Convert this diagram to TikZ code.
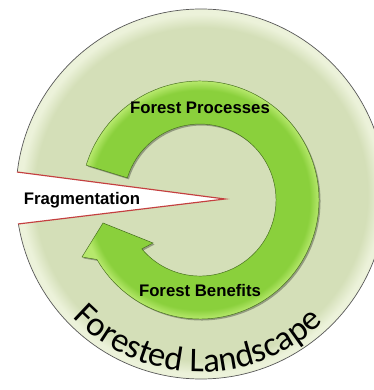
\documentclass[tikz,border=0pt]{standalone}
\usepackage{fontspec}
\setmainfont{Liberation Sans}
\newfontfamily\landfont{Carlito}
\usetikzlibrary{positioning,decorations.text}

\definecolor{sage}{RGB}{212,223,184}
\definecolor{sagelight}{RGB}{236,242,218}
\definecolor{leafmid}{RGB}{138,208,60}
\definecolor{leaflight}{RGB}{182,232,108}
\definecolor{leafdark}{RGB}{70,110,30}
\definecolor{wedgered}{RGB}{196,64,64}

\pgfdeclareradialshading{discshade}{\pgfpoint{0bp}{0bp}}{color(0bp)=(sage); color(22.5bp)=(sage); color(24.3bp)=(sagelight); color(25bp)=(sagelight); color(50bp)=(sagelight)}
\pgfdeclareradialshading{loopshade}{\pgfpoint{0bp}{0bp}}{color(0bp)=(leafmid); color(14.4bp)=(leafmid); color(15.5bp)=(leafmid); color(20.8bp)=(leafmid); color(22.5bp)=(leaflight); color(25bp)=(leaflight); color(50bp)=(leaflight)}

\tikzset {
    style label/.style={
        font=\bfseries\fontsize{14.3}{16}\selectfont,
        text=black,
        inner sep=1pt,
    },
    style wedge/.style={
        draw=wedgered,
        line width=1pt,
    },
}
\newcommand\looppath{(86.2,224.8) arc[start angle=163, end angle=-150, radius=119] -- (82,133) -- (103,167) -- (153,147) -- (141.8,141.1) arc[start angle=-140, end angle=163, radius=76] -- cycle}

\begin{document}
\begin{tikzpicture}[x=0.03cm, y=0.03cm]
\clip (0,0) rectangle (374,390);

% landscape disc
\shade[shading=discshade] (201,196) circle[radius=185];
\draw[gray!70!black, line width=0.6pt] (201,196) circle[radius=185];

% wedge
\coordinate (wtop) at (17,218);
\coordinate (wbot) at (18,166);
\coordinate (tip) at (225,191);
\fill[white] (wtop) -- (tip) -- (wbot) -- (0,166) -- (0,218) -- cycle;
\draw[style wedge] (wtop) -- (tip) -- (wbot);

% loop arrow
\fill[black, opacity=.3, shift={(1.5,-1.5)}] \looppath;
\begin{scope}
\clip \looppath;
\shade[shading=loopshade] (200,190) circle[radius=132];
\end{scope}
\draw[leafdark, line width=0.4pt] \looppath;

\node[style label] (procs) at (200,282) {Forest Processes};
\node[style label] (bens) at (200,99) {Forest Benefits};
\node[style label] (frag) at (82,190) {Fragmentation};

\path[decorate, decoration={text along path, text align=center,
    text={|\landfont\fontsize{29.5}{31}\selectfont|Forested Landscape}}]
    (62,84) arc[start angle=-141, end angle=-41, radius=178];

\end{tikzpicture}
\end{document}
